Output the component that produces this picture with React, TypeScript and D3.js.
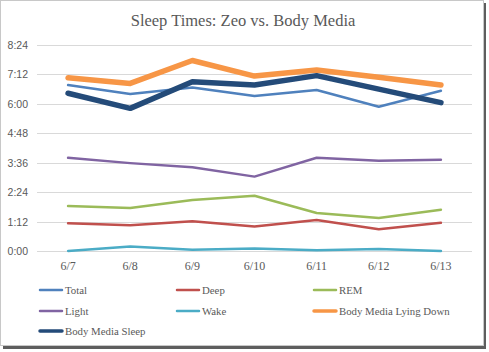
import { useRef, useEffect } from "react";
import * as d3 from "d3";

const W = 489;
const H = 352;
const PAD = { top: 45, right: 17, bottom: 101, left: 37 };

// values in minutes of sleep
const dates = ["6/7", "6/8", "6/9", "6/10", "6/11", "6/12", "6/13"];
const total = [406, 384, 400, 379, 394, 353, 392];
const deep = [68, 63, 73, 60, 76, 53, 69];
const rem = [110, 105, 125, 135, 93, 81, 101];
const light = [228, 215, 205, 182, 228, 221, 223];
const wake = [0, 11, 3, 6, 2, 5, 0];
const lyingDown = [424, 410, 466, 428, 443, 425, 406];
const bmSleep = [386, 349, 414, 406, 429, 396, 363];
const yTicks = [0, 72, 144, 216, 288, 360, 432, 504];

const seriesNames = ["Total", "Deep", "REM", "Light", "Wake", "Body Media Lying Down", "Body Media Sleep"];
const seriesValues = [total, deep, rem, light, wake, lyingDown, bmSleep];
const seriesColors = ["#4F81BD", "#C0504D", "#9BBB59", "#8064A2", "#4BACC6", "#F79646", "#244B79"];
const seriesWidths = [2.5, 2.5, 2.5, 2.5, 2.5, 5.5, 5.5];

const fmt = (m: number) => `${Math.floor(m / 60)}:${String(m % 60).padStart(2, "0")}`;

export default function App() {
  const svgRef = useRef<SVGSVGElement>(null);

  useEffect(() => {
    const svg = d3.select(svgRef.current);
    if (!svg.node()) return;
    svg.selectAll("*").remove();

    // frame + shadow
    svg.append("rect").attr("x", 3).attr("y", 3).attr("width", 483).attr("height", 346).attr("fill", "#5e5e5e");
    svg.append("rect").attr("x", 0.5).attr("y", 0.5).attr("width", 483).attr("height", 345)
      .attr("fill", "#fff").attr("stroke", "#c8c8c8");

    svg.append("text")
      .attr("x", 243).attr("y", 26)
      .attr("text-anchor", "middle")
      .style("font-family", "'Liberation Serif', serif")
      .style("font-size", "16.5px")
      .attr("fill", "#595959")
      .text("Sleep Times: Zeo vs. Body Media");

    const x = d3.scaleBand().domain(dates).range([PAD.left, W - PAD.right]);
    const y = d3.scaleLinear().domain([0, 504]).range([H - PAD.bottom, PAD.top]);

    const grid = svg.append("g");
    yTicks.forEach((t) => {
      grid.append("line")
        .attr("x1", PAD.left).attr("x2", W - PAD.right)
        .attr("y1", Math.round(y(t)) + 0.5).attr("y2", Math.round(y(t)) + 0.5)
        .attr("stroke", "#d9d9d9");
      grid.append("text")
        .attr("x", 28).attr("y", y(t) + 4)
        .attr("text-anchor", "end")
        .style("font-family", "'Liberation Sans', sans-serif")
        .style("font-size", "10.5px")
        .attr("fill", "#595959")
        .text(fmt(t));
    });

    svg.append("g")
      .selectAll("text")
      .data(dates)
      .enter()
      .append("text")
      .attr("x", (d) => x(d)! + x.bandwidth() / 2)
      .attr("y", 270)
      .attr("text-anchor", "middle")
      .style("font-family", "'Liberation Serif', serif")
      .style("font-size", "12px")
      .attr("fill", "#595959")
      .text((d) => d);

    const line = d3
      .line<number>()
      .x((_d, i) => x(dates[i])! + x.bandwidth() / 2)
      .y((d) => y(d));

    seriesValues.forEach((vals, i) => {
      svg.append("path")
        .datum(vals)
        .attr("d", line)
        .attr("fill", "none")
        .attr("stroke", seriesColors[i])
        .attr("stroke-width", seriesWidths[i])
        .attr("stroke-linejoin", "round")
        .attr("stroke-linecap", "round");
    });

    const legend = svg.append("g");
    const colX = [40, 177, 314];
    const rowY = [290, 311, 331];
    seriesNames.forEach((name, i) => {
      const lx = colX[i % 3];
      const ly = rowY[Math.floor(i / 3)];
      legend.append("line")
        .attr("x1", lx).attr("x2", lx + 22)
        .attr("y1", ly).attr("y2", ly)
        .attr("stroke", seriesColors[i])
        .attr("stroke-width", i >= 5 ? 3.5 : 2.5)
        .attr("stroke-linecap", "round");
      legend.append("text")
        .attr("x", lx + 25).attr("y", ly + 4)
        .style("font-family", "'Liberation Serif', serif")
        .style("font-size", "10.8px")
        .attr("fill", "#595959")
        .text(name);
    });
  }, []);

  return (
    <svg
      ref={svgRef}
      width={W}
      height={H}
      style={{ position: "absolute", left: 0, top: 0, background: "#fff" }}
    />
  );
}
